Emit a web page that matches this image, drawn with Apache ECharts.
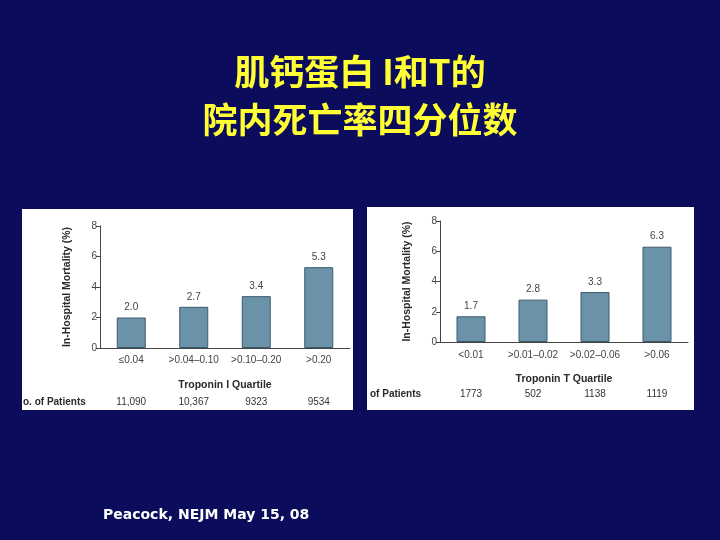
<!DOCTYPE html>
<html>
<head>
<meta charset="utf-8">
<script src="https://cdn.jsdelivr.net/npm/echarts@6/dist/echarts.min.js"></script>
<style>html,body{margin:0;padding:0;background:#0c0c5c;}#c{width:720px;height:540px;}</style>
</head>
<body>
<div id="c"></div>
<script>
const titleText = '肌钙蛋白 I和T的\n院内死亡率四分位数';
const footer = 'Peacock, NEJM May 15, 08';
const yName = 'In-Hospital Mortality (%)';
const catI = ['≤0.04', '>0.04–0.10', '>0.10–0.20', '>0.20'];
const valI = [2.0, 2.7, 3.4, 5.3];
const patientsI = ['11,090', '10,367', '9323', '9534'];
const nameI = 'Troponin I Quartile';
const rowLabelI = 'o. of Patients';
const catT = ['<0.01', '>0.01–0.02', '>0.02–0.06', '>0.06'];
const valT = [1.7, 2.8, 3.3, 6.3];
const patientsT = ['1773', '502', '1138', '1119'];
const nameT = 'Troponin T Quartile';
const rowLabelT = 'of Patients';

const FONT = 'Liberation Sans';
const chart = echarts.init(document.getElementById('c'));

function yAxisFor(gi) {
  return {
    type: 'value', gridIndex: gi, min: 0, max: 8, interval: 2,
    name: yName, nameLocation: 'middle', nameGap: 27, nameRotate: 90,
    nameTextStyle: { fontFamily: FONT, fontSize: 10.5, fontWeight: 'bold', color: '#2a2a2a' },
    axisLine: { show: true, lineStyle: { color: '#444', width: 1 } },
    axisTick: { show: true, length: 4, lineStyle: { color: '#444' } },
    axisLabel: { fontFamily: FONT, fontSize: 10, color: '#444', margin: 3 },
    splitLine: { show: false }
  };
}
function xAxisFor(gi, cats, name, margin) {
  return {
    type: 'category', gridIndex: gi, data: cats,
    name: name, nameLocation: 'middle', nameGap: 32,
    nameTextStyle: { fontFamily: FONT, fontSize: 10.5, fontWeight: 'bold', color: '#2a2a2a' },
    axisLine: { show: true, lineStyle: { color: '#444', width: 1 } },
    axisTick: { show: false },
    axisLabel: { fontFamily: FONT, fontSize: 10, color: '#444', margin: margin, interval: 0 }
  };
}
function countAxisFor(gi, counts, offset) {
  return {
    type: 'category', gridIndex: gi, data: counts, position: 'bottom', offset: offset,
    axisLine: { show: false }, axisTick: { show: false },
    axisLabel: { fontFamily: FONT, fontSize: 10, color: '#333', margin: 8, interval: 0 }
  };
}
function barSeries(xi, yi, vals) {
  return {
    type: 'bar', xAxisIndex: xi, yAxisIndex: yi, data: vals, barWidth: 29,
    itemStyle: { color: '#6a93a9', borderColor: '#3d5a6a', borderWidth: 1 },
    label: { show: true, position: 'top', distance: 5, fontFamily: FONT, fontSize: 10, color: '#444',
      formatter: p => p.value.toFixed(1) }
  };
}

chart.setOption({
  backgroundColor: '#0c0c5c',
  animation: false,
  graphic: { elements: [
    { type: 'text', x: 360, y: 48, style: { text: titleText, font: 'bold 35px "Noto Sans CJK SC"', fill: '#ffff33',
      align: 'center', verticalAlign: 'top', lineHeight: 48 } },
    { type: 'rect', z: -10, shape: { x: 22, y: 209, width: 331, height: 201 }, style: { fill: '#ffffff' } },
    { type: 'rect', z: -10, shape: { x: 367, y: 207, width: 327, height: 203 }, style: { fill: '#ffffff' } },
    { type: 'text', x: 23, y: 402, style: { text: rowLabelI, font: 'bold 10px "Liberation Sans"', fill: '#2a2a2a', verticalAlign: 'middle' } },
    { type: 'text', x: 370, y: 394, style: { text: rowLabelT, font: 'bold 10px "Liberation Sans"', fill: '#2a2a2a', verticalAlign: 'middle' } },
    { type: 'text', x: 103, y: 515, style: { text: footer, font: 'bold 14px "DejaVu Sans"', fill: '#ffffff', verticalAlign: 'middle' } }
  ]},
  grid: [
    { left: 100, top: 226, width: 250, height: 122 },
    { left: 440, top: 221, width: 248, height: 121 }
  ],
  xAxis: [
    xAxisFor(0, catI, nameI, 7),
    xAxisFor(1, catT, nameT, 8),
    countAxisFor(0, patientsI, 41),
    countAxisFor(1, patientsT, 39)
  ],
  yAxis: [ yAxisFor(0), yAxisFor(1) ],
  series: [ barSeries(0, 0, valI), barSeries(1, 1, valT) ]
});
</script>
</body>
</html>
